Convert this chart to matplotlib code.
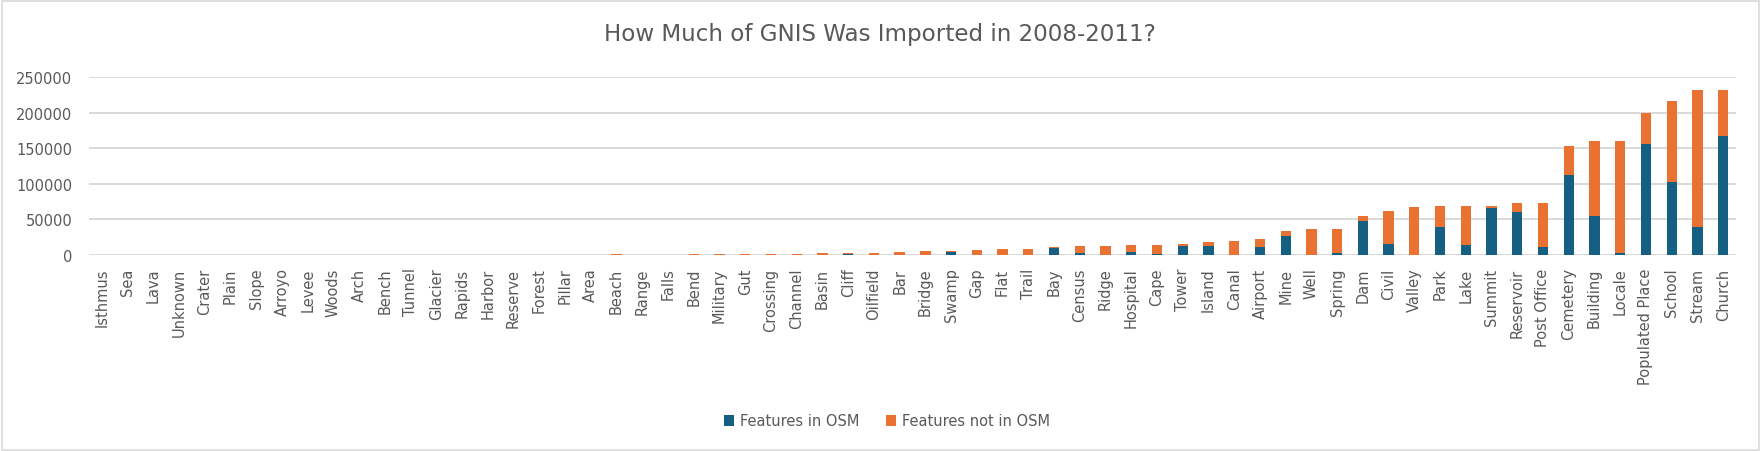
import matplotlib.pyplot as plt
from matplotlib.patches import Rectangle

# feature classes, left to right
categories = ["Isthmus", "Sea", "Lava", "Unknown", "Crater", "Plain", "Slope", "Arroyo",
              "Levee", "Woods", "Arch", "Bench", "Tunnel", "Glacier", "Rapids", "Harbor",
              "Reserve", "Forest", "Pillar", "Area", "Beach", "Range", "Falls", "Bend",
              "Military", "Gut", "Crossing", "Channel", "Basin", "Cliff", "Oilfield", "Bar",
              "Bridge", "Swamp", "Gap", "Flat", "Trail", "Bay", "Census", "Ridge",
              "Hospital", "Cape", "Tower", "Island", "Canal", "Airport", "Mine", "Well",
              "Spring", "Dam", "Civil", "Valley", "Park", "Lake", "Summit", "Reservoir",
              "Post Office", "Cemetery", "Building", "Locale", "Populated Place", "School",
              "Stream", "Church"]

in_osm = [0, 0, 0, 0, 0, 0, 0, 0,
          0, 0, 0, 0, 0, 0, 0, 0,
          0, 0, 0, 0, 0, 0, 0, 0,
          0, 0, 0, 0, 0, 1500, 0, 0,
          0, 4500, 0, 0, 0, 9900, 2800, 0,
          4200, 1500, 12600, 12400, 0, 10900, 26700, 0,
          2400, 48100, 15200, 0, 39500, 13800, 66600, 60900,
          11200, 112200, 54700, 3300, 155800, 102400,
          39300, 167000]

not_in_osm = [0, 0, 0, 0, 0, 0, 0, 0,
              0, 0, 0, 0, 0, 0, 0, 0,
              0, 0, 0, 0, 1700, 0, 0, 1700,
              1700, 1700, 1700, 1700, 2800, 1300, 2800, 4200,
              5600, 1500, 7000, 8500, 8500, 1400, 9900, 12700,
              9900, 12500, 2900, 5700, 19500, 11500, 7100, 36700,
              34300, 7100, 47200, 68100, 30000, 55700, 2900, 11500,
              61700, 40800, 105300, 156700, 43700, 113400,
              191800, 64100]

blue = "#156082"
orange = "#E97132"
text_col = "#595959"
grid_col = "#D9D9D9"

fig = plt.figure(figsize=(17.6, 4.52), dpi=100)
ax = fig.add_axes([89 / 1760, 1 - 256 / 452, (1736 - 89) / 1760, (256 - 78) / 452])

x = range(len(categories))
ax.bar(x, in_osm, width=0.4, color=blue, label="Features in OSM", zorder=3)
ax.bar(x, not_in_osm, width=0.4, bottom=in_osm, color=orange,
       label="Features not in OSM", zorder=3)

ax.set_xlim(-0.5, len(categories) - 0.5)
ax.set_ylim(0, 250000)
ax.set_yticks(range(0, 250001, 50000))
ax.set_xticks(list(x))
ax.set_xticklabels(categories, rotation=90)
ax.tick_params(axis="both", length=0, labelsize=10.5, labelcolor=text_col)
ax.tick_params(axis="y", pad=12)
ax.tick_params(axis="x", pad=9)
ax.grid(axis="y", color=grid_col, linewidth=1.4, zorder=0)
for s in ax.spines.values():
    s.set_visible(False)

fig.text(0.5, 1 - 35 / 452, "How Much of GNIS Was Imported in 2008-2011?",
         ha="center", va="center", fontsize=16.6, color=text_col)

fig.legend(loc="center", bbox_to_anchor=(0.504, 1 - 422 / 452), ncol=2, frameon=False,
           fontsize=10.5, labelcolor=text_col, handlelength=0.7, handleheight=0.7,
           handletextpad=0.4, columnspacing=1.8)

fig.patches.append(Rectangle((1.5 / 1760, 1.5 / 452), 1 - 3 / 1760, 1 - 3 / 452,
                             transform=fig.transFigure, fill=False,
                             edgecolor=grid_col, linewidth=1.2))

fig.savefig("out.png", dpi=100)
